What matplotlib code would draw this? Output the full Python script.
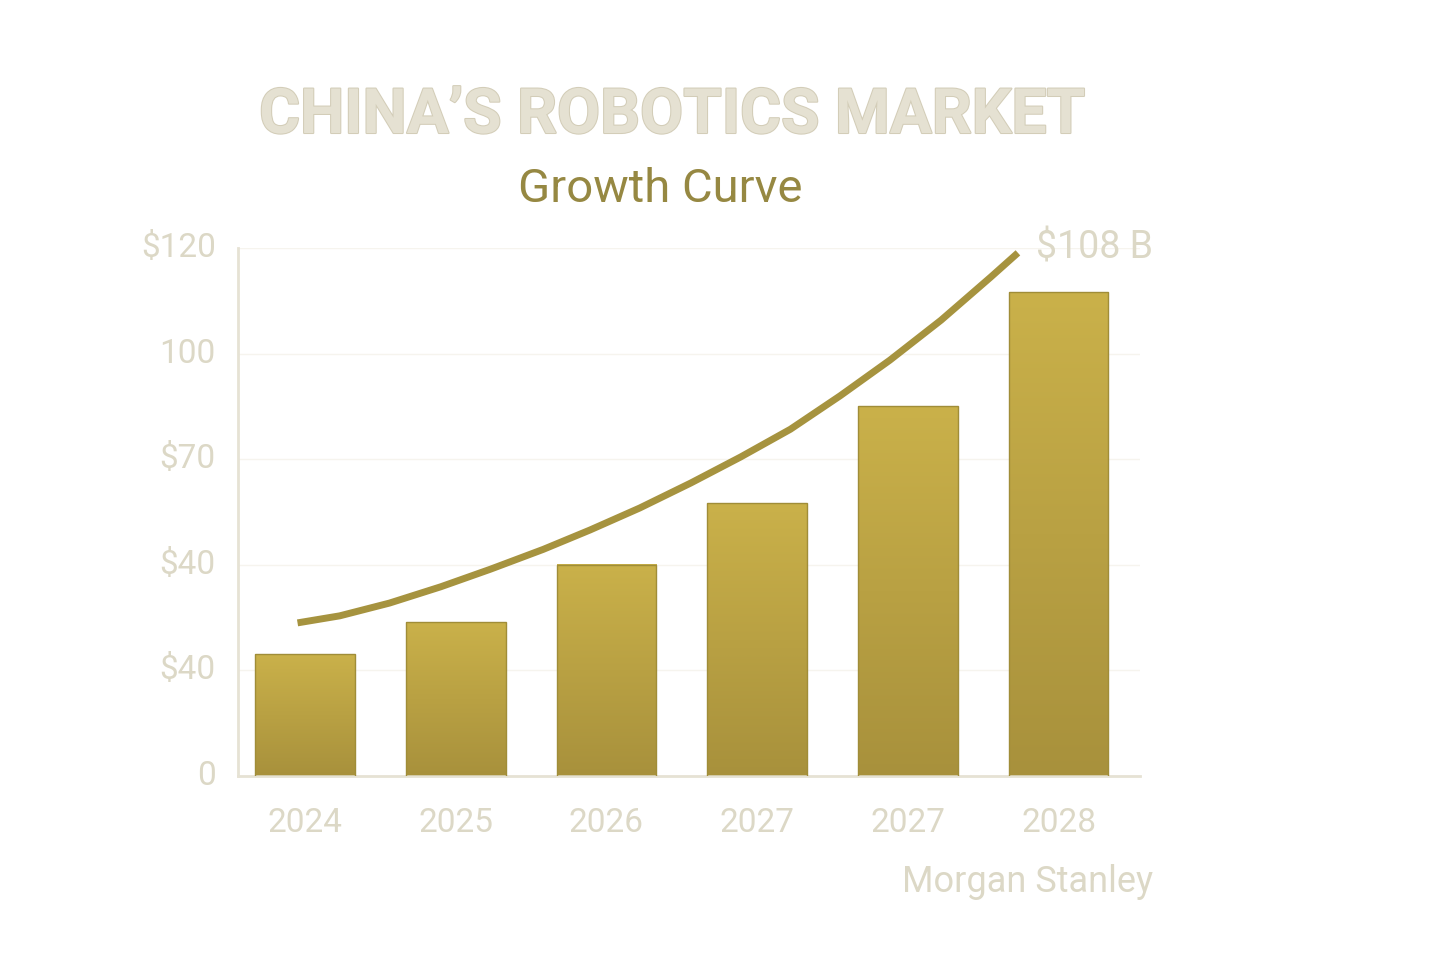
import numpy as np
import matplotlib.pyplot as plt
import matplotlib.patheffects as pe
from matplotlib.colors import LinearSegmentedColormap

plt.rcParams['font.family'] = ['Roboto', 'DejaVu Sans']

years = ['2024', '2025', '2026', '2027', '2027', '2028']
values = [27.7, 35, 48, 62, 84, 110]
curve_x = [-0.05, 0.23, 0.56, 0.90, 1.23, 1.58, 1.89, 2.22, 2.56, 2.89,
           3.22, 3.55, 3.88, 4.22, 4.55, 4.73]
curve_y = [34.8, 36.4, 39.3, 43.0, 47.0, 51.5, 55.9, 60.9, 66.6, 72.5,
           78.8, 86.4, 94.5, 103.6, 113.4, 118.9]
tick_vals = [0, 24, 48, 72, 96, 120]
tick_labels = ['0', '$40', '$40', '$70', '100', '$120']
end_label = '$108 B'

light = '#dcd8c6'
gold = '#a6933f'

fig = plt.figure(figsize=(14.56, 9.71), dpi=100)
ax = fig.add_axes([238 / 1456, 1 - 776 / 971, (1140 - 238) / 1456, (776 - 248) / 971])

cmap = LinearSegmentedColormap.from_list('g', ['#a8913c', '#cab14a'])
grad = np.linspace(0, 1, 256).reshape(-1, 1)
w = 0.66
for i, v in enumerate(values):
    ax.imshow(grad, extent=[i - w / 2, i + w / 2, 0, v], origin='lower', cmap=cmap,
              aspect='auto', zorder=2)
    ax.add_patch(plt.Rectangle((i - w / 2, 0), w, v, fill=False, ec='#a08d38', lw=1, zorder=3))

ax.plot(curve_x, curve_y, color=gold, lw=5, solid_capstyle='butt',
        solid_joinstyle='round', zorder=4)
ax.text(4.85, 120, end_label, color=light, fontsize=27, va='center', ha='left')

ax.set_xlim(-0.445, 5.54)
ax.set_ylim(0, 120)
ax.set_yticks(tick_vals)
ax.set_yticklabels(tick_labels)
ax.set_xticks(range(len(years)))
ax.set_xticklabels(years)
ax.tick_params(axis='both', length=0, colors=light, labelsize=24)
ax.tick_params(axis='x', pad=22)
ax.tick_params(axis='y', pad=16)
for lab in ax.get_yticklabels():
    lab.set_va('center')
for s in ['top', 'right']:
    ax.spines[s].set_visible(False)
for s in ['left', 'bottom']:
    ax.spines[s].set_color('#e6e2d4')
    ax.spines[s].set_linewidth(2)
ax.grid(axis='y', color='#f6f4ee', lw=1, zorder=0)
ax.set_axisbelow(True)

fig.text(672 / 1456, 1 - 116 / 971, "CHINA\u2019S ROBOTICS MARKET", ha='center', va='center',
         fontsize=45, fontweight='bold', color='#e5e1d2',
         path_effects=[pe.withStroke(linewidth=1.5, foreground='#d3cdb8')])
fig.text(660 / 1456, 1 - 189 / 971, 'Growth Curve', ha='center', va='center',
         fontsize=34, color='#968842')
fig.text(1153 / 1456, 1 - 882 / 971, 'Morgan Stanley', ha='right', va='center',
         fontsize=26, color=light)

fig.savefig('out.png', dpi=100, facecolor='white')
